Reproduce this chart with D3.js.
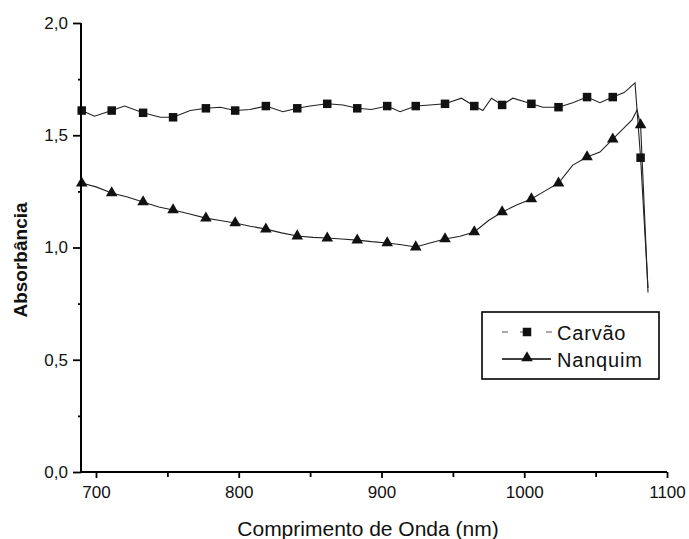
<!DOCTYPE html>
<html>
<head>
<meta charset="utf-8">
<script src="https://cdn.jsdelivr.net/npm/d3@7/dist/d3.min.js"></script>
<style>
  html, body { margin: 0; padding: 0; background: #fff; }
  svg { display: block; }
  text { font-family: "Liberation Sans", Arial, Helvetica, sans-serif; fill: #111; }
</style>
</head>
<body>
<svg id="chart" width="689" height="539"></svg>
<script>
// ---- data ----
const xTicks = [700, 800, 900, 1000, 1100];
const xMinorTicks = [750, 850, 950, 1050];
const yTicks = [0.0, 0.5, 1.0, 1.5, 2.0];
const yMinorTicks = [0.25, 0.75, 1.25, 1.75];

// marker positions (nm), shared by both series
const markerNm = [690, 711, 733, 754, 777, 797.5, 819, 841, 862, 883, 904, 924, 944.5, 965, 984.5, 1005, 1024, 1044, 1062, 1081.5];
const carvaoMarkers = [1.61, 1.61, 1.60, 1.58, 1.62, 1.61, 1.63, 1.62, 1.64, 1.62, 1.63, 1.63, 1.64, 1.63, 1.635, 1.64, 1.625, 1.67, 1.67, 1.40];
const nanquimMarkers = [1.287, 1.243, 1.203, 1.167, 1.131, 1.109, 1.082, 1.051, 1.042, 1.033, 1.020, 1.002, 1.038, 1.069, 1.158, 1.216, 1.287, 1.403, 1.483, 1.546];

// continuous traces (nm, absorbance)
const carvaoLineNm = [690, 699, 711, 720, 733, 745, 754, 766, 777, 787, 797.5, 808, 819, 831, 841, 850, 862, 873, 883, 893, 904, 913, 924, 934, 944.5, 956, 965, 971, 977, 984.5, 992, 1005, 1013, 1024, 1034, 1044, 1053, 1062, 1070, 1077.6, 1081.5, 1086.7];
const carvaoLineVal = [1.61, 1.585, 1.61, 1.63, 1.60, 1.58, 1.58, 1.61, 1.62, 1.625, 1.61, 1.615, 1.63, 1.605, 1.62, 1.63, 1.64, 1.635, 1.62, 1.615, 1.63, 1.605, 1.63, 1.635, 1.64, 1.665, 1.63, 1.61, 1.665, 1.635, 1.665, 1.64, 1.625, 1.625, 1.645, 1.67, 1.645, 1.67, 1.69, 1.733, 1.40, 0.82];
const nanquimLineNm = [690, 700, 711, 722, 733, 744, 754, 765, 777, 787, 797.5, 808, 819, 830, 841, 852, 862, 872, 883, 893, 904, 914, 924, 934, 944.5, 955, 965, 975, 984.5, 995, 1005, 1014, 1024, 1034, 1044, 1053, 1062, 1072, 1075.5, 1079, 1081.5, 1086.7];
const nanquimLineVal = [1.287, 1.27, 1.243, 1.225, 1.203, 1.18, 1.167, 1.15, 1.131, 1.12, 1.109, 1.095, 1.082, 1.065, 1.051, 1.045, 1.042, 1.038, 1.033, 1.026, 1.020, 1.012, 1.002, 1.02, 1.038, 1.05, 1.069, 1.12, 1.158, 1.19, 1.216, 1.25, 1.287, 1.367, 1.403, 1.425, 1.483, 1.546, 1.568, 1.612, 1.546, 0.80];

const legendLabels = ["Carvão", "Nanquim"];

// ---- layout ----
const svg = d3.select("#chart");
const x = d3.scaleLinear().domain([689.5, 1100]).range([81, 667]);
const y = d3.scaleLinear().domain([0, 2]).range([472, 23]);
const fmt = d => d3.format(".1f")(d).replace(".", ",");
const ink = "#000";

// plot lines
const line = d3.line().x(d => x(d[0])).y(d => y(d[1]));
const cData = carvaoLineNm.map((n, i) => [n, carvaoLineVal[i]]);
const nData = nanquimLineNm.map((n, i) => [n, nanquimLineVal[i]]);
svg.append("path").attr("d", line(cData)).attr("fill", "none").attr("stroke", "#222").attr("stroke-width", 1.1);
svg.append("path").attr("d", line(nData)).attr("fill", "none").attr("stroke", "#222").attr("stroke-width", 1.1);

// markers
const sq = 8.5;
svg.append("g").selectAll("rect").data(markerNm.map((n, i) => [n, carvaoMarkers[i]])).join("rect")
  .attr("x", d => x(d[0]) - sq / 2).attr("y", d => y(d[1]) - sq / 2)
  .attr("width", sq).attr("height", sq).attr("fill", "#111");
const tri = d3.symbol().type(d3.symbolTriangle).size(58);
svg.append("g").selectAll("path").data(markerNm.map((n, i) => [n, nanquimMarkers[i]])).join("path")
  .attr("d", tri).attr("transform", d => `translate(${x(d[0])},${y(d[1])})`).attr("fill", "#111");

// axes
const xAxis = svg.append("g").attr("transform", "translate(0,472)")
  .call(d3.axisBottom(x).tickValues(xTicks).tickSize(6).tickPadding(8).tickFormat(d3.format("d")));
svg.append("g").attr("transform", "translate(0,472)")
  .call(d3.axisBottom(x).tickValues(xMinorTicks).tickSize(5).tickFormat(""))
  .call(g => g.select(".domain").remove());
xAxis.select(".domain").attr("d", `M${x(689.5)},0H${x(1100)}`);
const yAxis = svg.append("g").attr("transform", "translate(81,0)")
  .call(d3.axisLeft(y).tickValues(yTicks).tickSize(8).tickPadding(5).tickFormat(fmt));
svg.append("g").attr("transform", "translate(81,0)")
  .call(d3.axisLeft(y).tickValues(yMinorTicks).tickSize(3).tickFormat(""))
  .call(g => g.select(".domain").remove());
yAxis.select(".domain").attr("d", `M0,${y(0)}V${y(2)}`);

svg.selectAll(".domain").attr("stroke", ink).attr("stroke-width", 2);
svg.selectAll(".tick line").attr("stroke", ink).attr("stroke-width", 1.8);
xAxis.selectAll(".tick text").attr("font-size", 17).attr("fill", "#111");
yAxis.selectAll(".tick text").attr("font-size", 17).attr("fill", "#111");

// axis titles
svg.append("text").attr("x", 368).attr("y", 536).attr("text-anchor", "middle")
  .attr("font-size", 21).text("Comprimento de Onda (nm)");
svg.append("text").attr("transform", "translate(27,260) rotate(-90)").attr("text-anchor", "middle")
  .attr("font-size", 19).attr("font-weight", "bold").text("Absorbância");

// legend
const lg = svg.append("g");
lg.append("rect").attr("x", 482).attr("y", 312).attr("width", 177).attr("height", 67)
  .attr("fill", "#fff").attr("stroke", ink).attr("stroke-width", 1.6);
const rows = [332, 359];
lg.append("line").attr("x1", 502).attr("x2", 552).attr("y1", rows[0]).attr("y2", rows[0])
  .attr("stroke", "#555").attr("stroke-width", 1).attr("stroke-dasharray", "6,12,6,20");
lg.append("rect").attr("x", 527 - sq / 2).attr("y", rows[0] - sq / 2).attr("width", sq).attr("height", sq).attr("fill", "#111");
lg.append("line").attr("x1", 502).attr("x2", 551).attr("y1", rows[1]).attr("y2", rows[1])
  .attr("stroke", ink).attr("stroke-width", 1.4);
lg.append("path").attr("d", tri).attr("transform", `translate(527,${rows[1] - 1})`).attr("fill", "#111");
lg.selectAll("text").data(legendLabels).join("text")
  .attr("x", 557).attr("y", (d, i) => rows[i] + 8)
  .attr("font-size", 20).attr("letter-spacing", 0.8).text(d => d);
</script>
</body>
</html>
